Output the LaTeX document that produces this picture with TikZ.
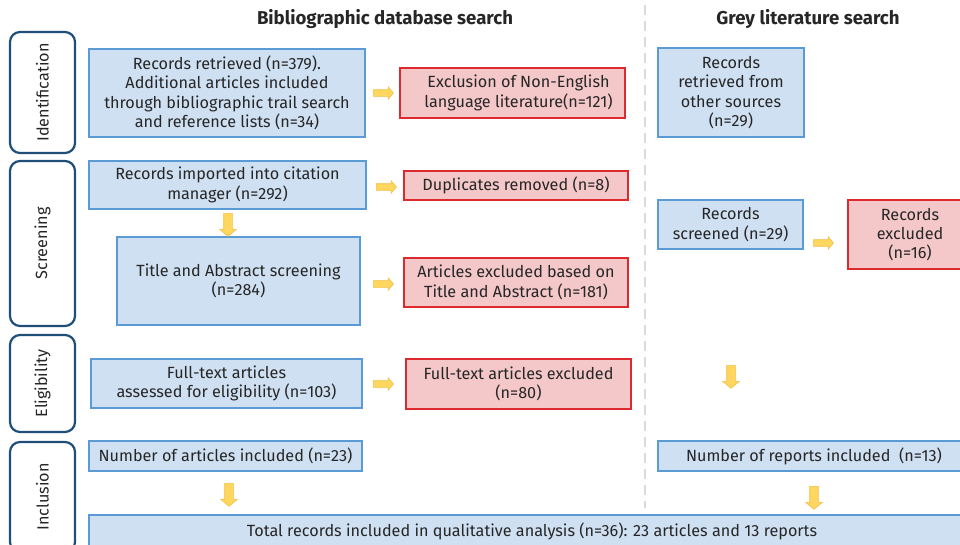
\documentclass[tikz,border=0pt]{standalone}
\usepackage{fontspec}
\setmainfont{Fira Sans}
\usetikzlibrary{shapes.arrows}

\definecolor{boxblue}{HTML}{CFE0F2}
\definecolor{lineblue}{HTML}{5B9BD5}
\definecolor{boxred}{HTML}{F4C7C8}
\definecolor{linered}{HTML}{DC2A2F}
\definecolor{stagenavy}{HTML}{1F4E79}
\definecolor{arrowyellow}{HTML}{FFD75E}
\definecolor{arrowedge}{HTML}{F2BE45}
\definecolor{dashgrey}{HTML}{D9D9D9}

\begin{document}
\begin{tikzpicture}[x=1pt,y=-1pt,
  every node/.style={font=\fontsize{16.2}{19.4}\selectfont, text=black!85},
  bluebox/.style={draw=lineblue, fill=boxblue, line width=1.6, align=center, inner sep=0},
  redbox/.style={draw=linered, fill=boxred, line width=1.6, align=center, inner sep=0},
  stagebox/.style={draw=stagenavy, fill=white, line width=2.2, rounded corners=10, rotate=90, inner sep=0},
  rarrow/.style={single arrow, draw=arrowedge, fill=arrowyellow, line width=.6,
    minimum height=20, inner sep=3, single arrow head extend=3, single arrow tip angle=100},
  darrow/.style={rarrow, shape border rotate=270, minimum height=23, inner sep=4,
    single arrow head extend=4}
]
\useasboundingbox (0,0) rectangle (960,544);

\draw[dashgrey, line width=2, dash pattern=on 10 off 6]
  (645,5) -- (645,508);

\node[font=\fontsize{18.6}{22}\selectfont\bfseries] (tbib) at (385,19)
  {Bibliographic database search};
\node[font=\fontsize{18.6}{22}\selectfont\bfseries] (tgrey) at (808,19)
  {Grey literature search};

\node[stagebox, minimum width=121, minimum height=65] (sident) at (42.5,92.5) {Identification};
\node[stagebox, minimum width=165, minimum height=65] (sscreen) at (42.5,243.5) {Screening};
\node[stagebox, minimum width=97, minimum height=65] (selig) at (42.5,383.5) {Eligibility};
\node[stagebox, minimum width=110, minimum height=65] (sincl) at (42.5,497) {Inclusion};

\node[bluebox, minimum width=276, minimum height=88] (retrieved) at (227,93)
  {Records retrieved (n=379).\\Additional articles included\\through bibliographic trail search\\and reference lists (n=34)};
\node[redbox, minimum width=225, minimum height=50] (nonenglish) at (512.5,93)
  {\hspace*{12pt}Exclusion of Non-English\\\hspace*{12pt}language literature(n=121)};
\node[bluebox, minimum width=146, minimum height=89] (otherret) at (731,92.5)
  {Records\\retrieved from\\other sources\\(n=29)};

\node[bluebox, minimum width=277, minimum height=48] (imported) at (227.5,185)
  {Records imported into citation\\manager (n=292)};
\node[redbox, minimum width=224, minimum height=29] (duplicates) at (516,185.5)
  {Duplicates removed (n=8)};
\node[bluebox, minimum width=243, minimum height=88] (titleabs) at (238.5,281)
  {Title and Abstract screening\\(n=284)};
\node[redbox, minimum width=224, minimum height=49] (taexcl) at (516,282.5)
  {Articles excluded based on\\Title and Abstract (n=181)};
\node[bluebox, minimum width=145, minimum height=49] (otherscr) at (730.5,224.5)
  {Records\\screened (n=29)};
\node[redbox, minimum width=124, minimum height=69] (otherexcl) at (910,234.5)
  {Records\\excluded\\(n=16)};

\node[bluebox, minimum width=271, minimum height=49] (fulltext) at (226.5,383.5)
  {Full-text articles\\assessed for eligibility (n=103)};
\node[redbox, minimum width=225, minimum height=50] (ftexcl) at (518.5,384)
  {Full-text articles excluded\\(n=80)};

\node[bluebox, minimum width=273, minimum height=30] (artincl) at (225.5,456)
  {Number of articles included (n=23)};
\node[bluebox, minimum width=312, minimum height=30] (repincl) at (814,456)
  {Number of reports included\ \ (n=13)};
\node[bluebox, minimum width=886, minimum height=33] (total) at (532,531.5)
  {Total records included in qualitative analysis (n=36): 23 articles and 13 reports};

\node[rarrow] (ar1) at (382,93) {};
\node[rarrow] (ar2) at (385,187) {};
\node[rarrow] (ar3) at (382,284) {};
\node[rarrow] (ar4) at (382,384) {};
\node[rarrow] (ar5) at (822,243) {};

\node[darrow] (ad1) at (228,223) {};
\node[darrow] (ad2) at (731,375) {};
\node[darrow] (ad3) at (229,493) {};
\node[darrow] (ad4) at (814,496) {};

\end{tikzpicture}
\end{document}
